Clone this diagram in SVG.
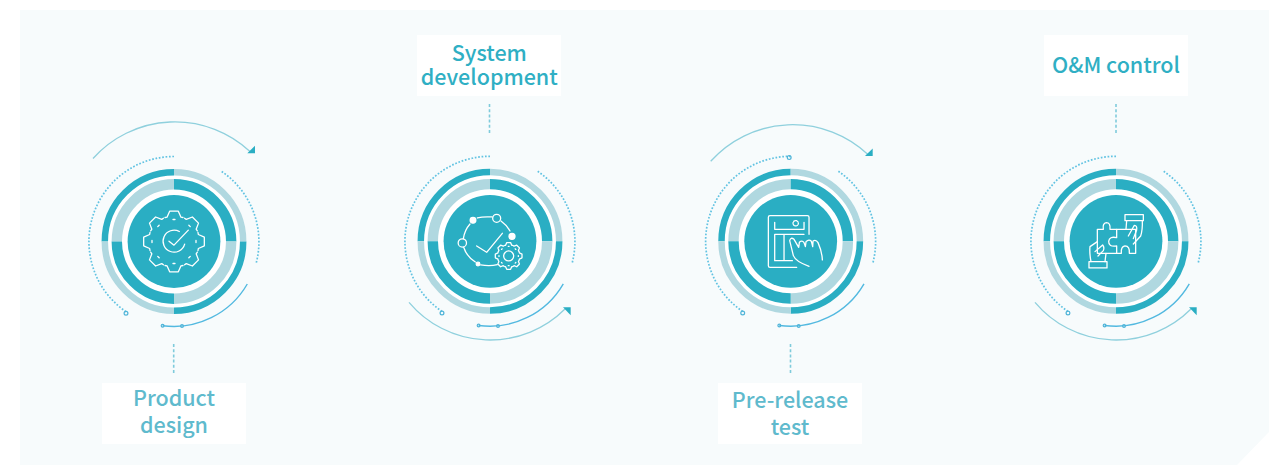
<svg xmlns="http://www.w3.org/2000/svg" xmlns:xlink="http://www.w3.org/1999/xlink" width="1283" height="465" viewBox="0 0 1283 465">
<style>
.lab{fill:#fff}
.t{font-family:"Noto Sans CJK SC","Noto Sans",sans-serif;font-size:21.5px;font-weight:500;text-anchor:middle}
.t1{fill:#5fbaCd}.t2{fill:#2fafc4}
.d{stroke:#2aaec3;fill:none}.l{stroke:#b0d8e0;fill:none}
.dot{fill:none;stroke:#62c3e2;stroke-width:1.7;stroke-dasharray:1.7 1.7}
.bl{fill:none;stroke:#52b9e0;stroke-width:1.4}
.big{fill:none;stroke:#8fd0dd;stroke-width:1.3}
.ar{fill:#2aaec3}
.o{fill:none;stroke:#4fb4d8;stroke-width:1.2}
.ic{fill:none;stroke:#fff;stroke-width:3.9;stroke-linejoin:round;stroke-linecap:round}
.dash{stroke:#7fcbdb;stroke-width:1.6;stroke-dasharray:3 2.2;fill:none}
</style>
<defs>
<g id="rings">
<circle r="72.5" fill="#fff"/>
<path class="d" stroke-width="6.5" d="M-69.2,0A69.2,69.2 0 0 1 0,-69.2"/>
<path class="l" stroke-width="6.5" d="M0,-69.2A69.2,69.2 0 0 1 69.2,0"/>
<path class="d" stroke-width="6.5" d="M69.2,0A69.2,69.2 0 0 1 0,69.2"/>
<path class="l" stroke-width="6.5" d="M0,69.2A69.2,69.2 0 0 1 -69.2,0"/>
<path class="l" stroke-width="10.4" d="M-57.2,0A57.2,57.2 0 0 1 0,-57.2"/>
<path class="d" stroke-width="10.4" d="M0,-57.2A57.2,57.2 0 0 1 57.2,0"/>
<path class="l" stroke-width="10.4" d="M57.2,0A57.2,57.2 0 0 1 0,57.2"/>
<path class="d" stroke-width="10.4" d="M0,57.2A57.2,57.2 0 0 1 -57.2,0"/>
<circle r="46.4" fill="#2aaec3"/>
<path class="dot" d="M0,-85A85,85 0 0 0 -46.8,71"/>
<circle cx="-48" cy="71.7" r="1.9" class="o"/>
<path class="dot" d="M47.7,-70A85,85 0 0 1 82,22.4"/>
<path class="bl" d="M73.3,42.5A85,85 0 0 1 -11.4,84.2"/>
<circle cx="-11.4" cy="84.2" r="1.4" fill="#52b9e0" class="o"/>
<circle cx="8" cy="84.6" r="1.4" fill="#52b9e0" class="o"/>
</g>
<g id="topArc"><path class="big" d="M-81,-83A110,110 0 0 1 76,-90"/><path class="ar" d="M81,-95.8V-88.2H73.3Z"/></g>
<g id="botArc"><path class="big" d="M-81,61A106,106 0 0 0 75,67.7"/><path class="ar" d="M73,66H80.7V74Z"/></g>
<path id="tooth" d="M-27,-72L-21,-73L-13,-91H13L21,-73L27,-72M-3,-66H3"/>
</defs>
<path d="M20,10H1269V432L1237,465H20Z" fill="#f7fbfc"/>
<g id="connectors">
<path class="dash" d="M173.7,344V375"/>
<path class="dash" d="M489.5,104V135"/>
<path class="dash" d="M790.5,344V375"/>
<path class="dash" d="M1116,104V135"/>
</g>
<g id="node-product-design" transform="translate(174,241.5)">
<use xlink:href="#rings" href="#rings"/><use href="#topArc" xlink:href="#topArc"/>
<g class="ic" transform="scale(.3333)">
<use href="#tooth" xlink:href="#tooth"/><use href="#tooth" xlink:href="#tooth" transform="rotate(45)"/><use href="#tooth" xlink:href="#tooth" transform="rotate(90)"/><use href="#tooth" xlink:href="#tooth" transform="rotate(135)"/><use href="#tooth" xlink:href="#tooth" transform="rotate(180)"/><use href="#tooth" xlink:href="#tooth" transform="rotate(225)"/><use href="#tooth" xlink:href="#tooth" transform="rotate(270)"/><use href="#tooth" xlink:href="#tooth" transform="rotate(315)"/>
<path d="M16,-30A33,33 0 1 0 32,8"/><path d="M-15,-1L0,11L43,-34"/>
</g>
</g>
<g id="node-system-development" transform="translate(490,241.3)">
<use href="#rings" xlink:href="#rings"/><use href="#botArc" xlink:href="#botArc"/>
<g class="ic" transform="scale(.3333) translate(-300,-304)">
<path d="M262,234Q280,229 306,231M333,243Q350,255 360,273M240,252Q224,270 220,296M221,322Q230,350 256,366M272,375Q300,380 322,374"/>
<circle cx="249" cy="241" r="8.5" fill="#fff"/><circle cx="320" cy="235" r="12"/><circle cx="366" cy="289" r="9" fill="#fff"/><circle cx="217" cy="309" r="12.5"/><circle cx="264" cy="372" r="5.5" fill="#fff"/>
<path d="M260,318L290,337L337,280"/>
<g transform="translate(356,348) scale(.44)" style="stroke-width:8.8"><use href="#tooth" xlink:href="#tooth"/><use href="#tooth" xlink:href="#tooth" transform="rotate(45)"/><use href="#tooth" xlink:href="#tooth" transform="rotate(90)"/><use href="#tooth" xlink:href="#tooth" transform="rotate(135)"/><use href="#tooth" xlink:href="#tooth" transform="rotate(180)"/><use href="#tooth" xlink:href="#tooth" transform="rotate(225)"/><use href="#tooth" xlink:href="#tooth" transform="rotate(270)"/><use href="#tooth" xlink:href="#tooth" transform="rotate(315)"/></g>
<circle cx="356" cy="348" r="15"/>
</g>
</g>
<g id="node-pre-release-test" transform="translate(790.7,241.3)">
<use href="#rings" xlink:href="#rings"/><use href="#topArc" xlink:href="#topArc" transform="translate(1,3)"/>
<circle cx="-1.5" cy="-83.7" r="1.9" class="o"/>
<g class="ic" transform="scale(.3333) translate(-150,-154)">
<path d="M205,133V82Q205,77 200,77H88Q83,77 83,82V227Q83,232 88,232H168"/>
<path d="M102,97V118H190V97"/><circle cx="165" cy="100" r="8" stroke-dasharray="3 3"/>
<path d="M190,133H102V212H155M130,133V212"/>
<path d="M158,197L147,152Q150,140 160,148L174,172L176,157Q184,150 190,158L194,170L196,155Q205,146 212,154L216,170L217,153Q226,148 232,158Q244,185 245,210M158,197Q165,215 205,229"/>
</g>
</g>
<g id="node-om-control" transform="translate(1116,241.3)">
<use href="#rings" xlink:href="#rings"/><use href="#botArc" xlink:href="#botArc"/>
<g class="ic" transform="scale(.3333) translate(-288,-304)">
<path d="M290,268H270Q272,248 259,248Q247,250 250,268H232V340H290V318Q265,322 266,304Q268,288 290,293V268"/>
<path d="M290,268H347V340H328Q330,318 315,318Q302,320 304,340H290"/>
<rect x="315" y="224" width="55" height="18"/><rect x="207" y="365" width="54" height="19"/>
<path d="M320,242L318,268M367,242Q368,270 362,288L340,312M325,288L343,256Q352,256 350,270L340,296"/>
<path d="M213,365Q208,340 210,320L232,305M225,335L248,315Q254,322 250,332L234,348M255,365L258,340"/>
</g>
</g>
<g id="label-product-design"><rect class="lab" x="102" y="383" width="144" height="61"/><text class="t t1"><tspan x="174" y="406">Product</tspan><tspan x="174" y="433">design</tspan></text></g>
<g id="label-system-development"><rect class="lab" x="417" y="35" width="144" height="61"/><text class="t t2"><tspan x="489.3" y="60.5">System</tspan><tspan x="489.3" y="85">development</tspan></text></g>
<g id="label-pre-release-test"><rect class="lab" x="718" y="383" width="144" height="61"/><text class="t t1"><tspan x="790" y="408">Pre-release</tspan><tspan x="790" y="435">test</tspan></text></g>
<g id="label-om-control"><rect class="lab" x="1044" y="35" width="144" height="61"/><text class="t t2" x="1116" y="73">O&amp;M control</text></g>
</svg>
